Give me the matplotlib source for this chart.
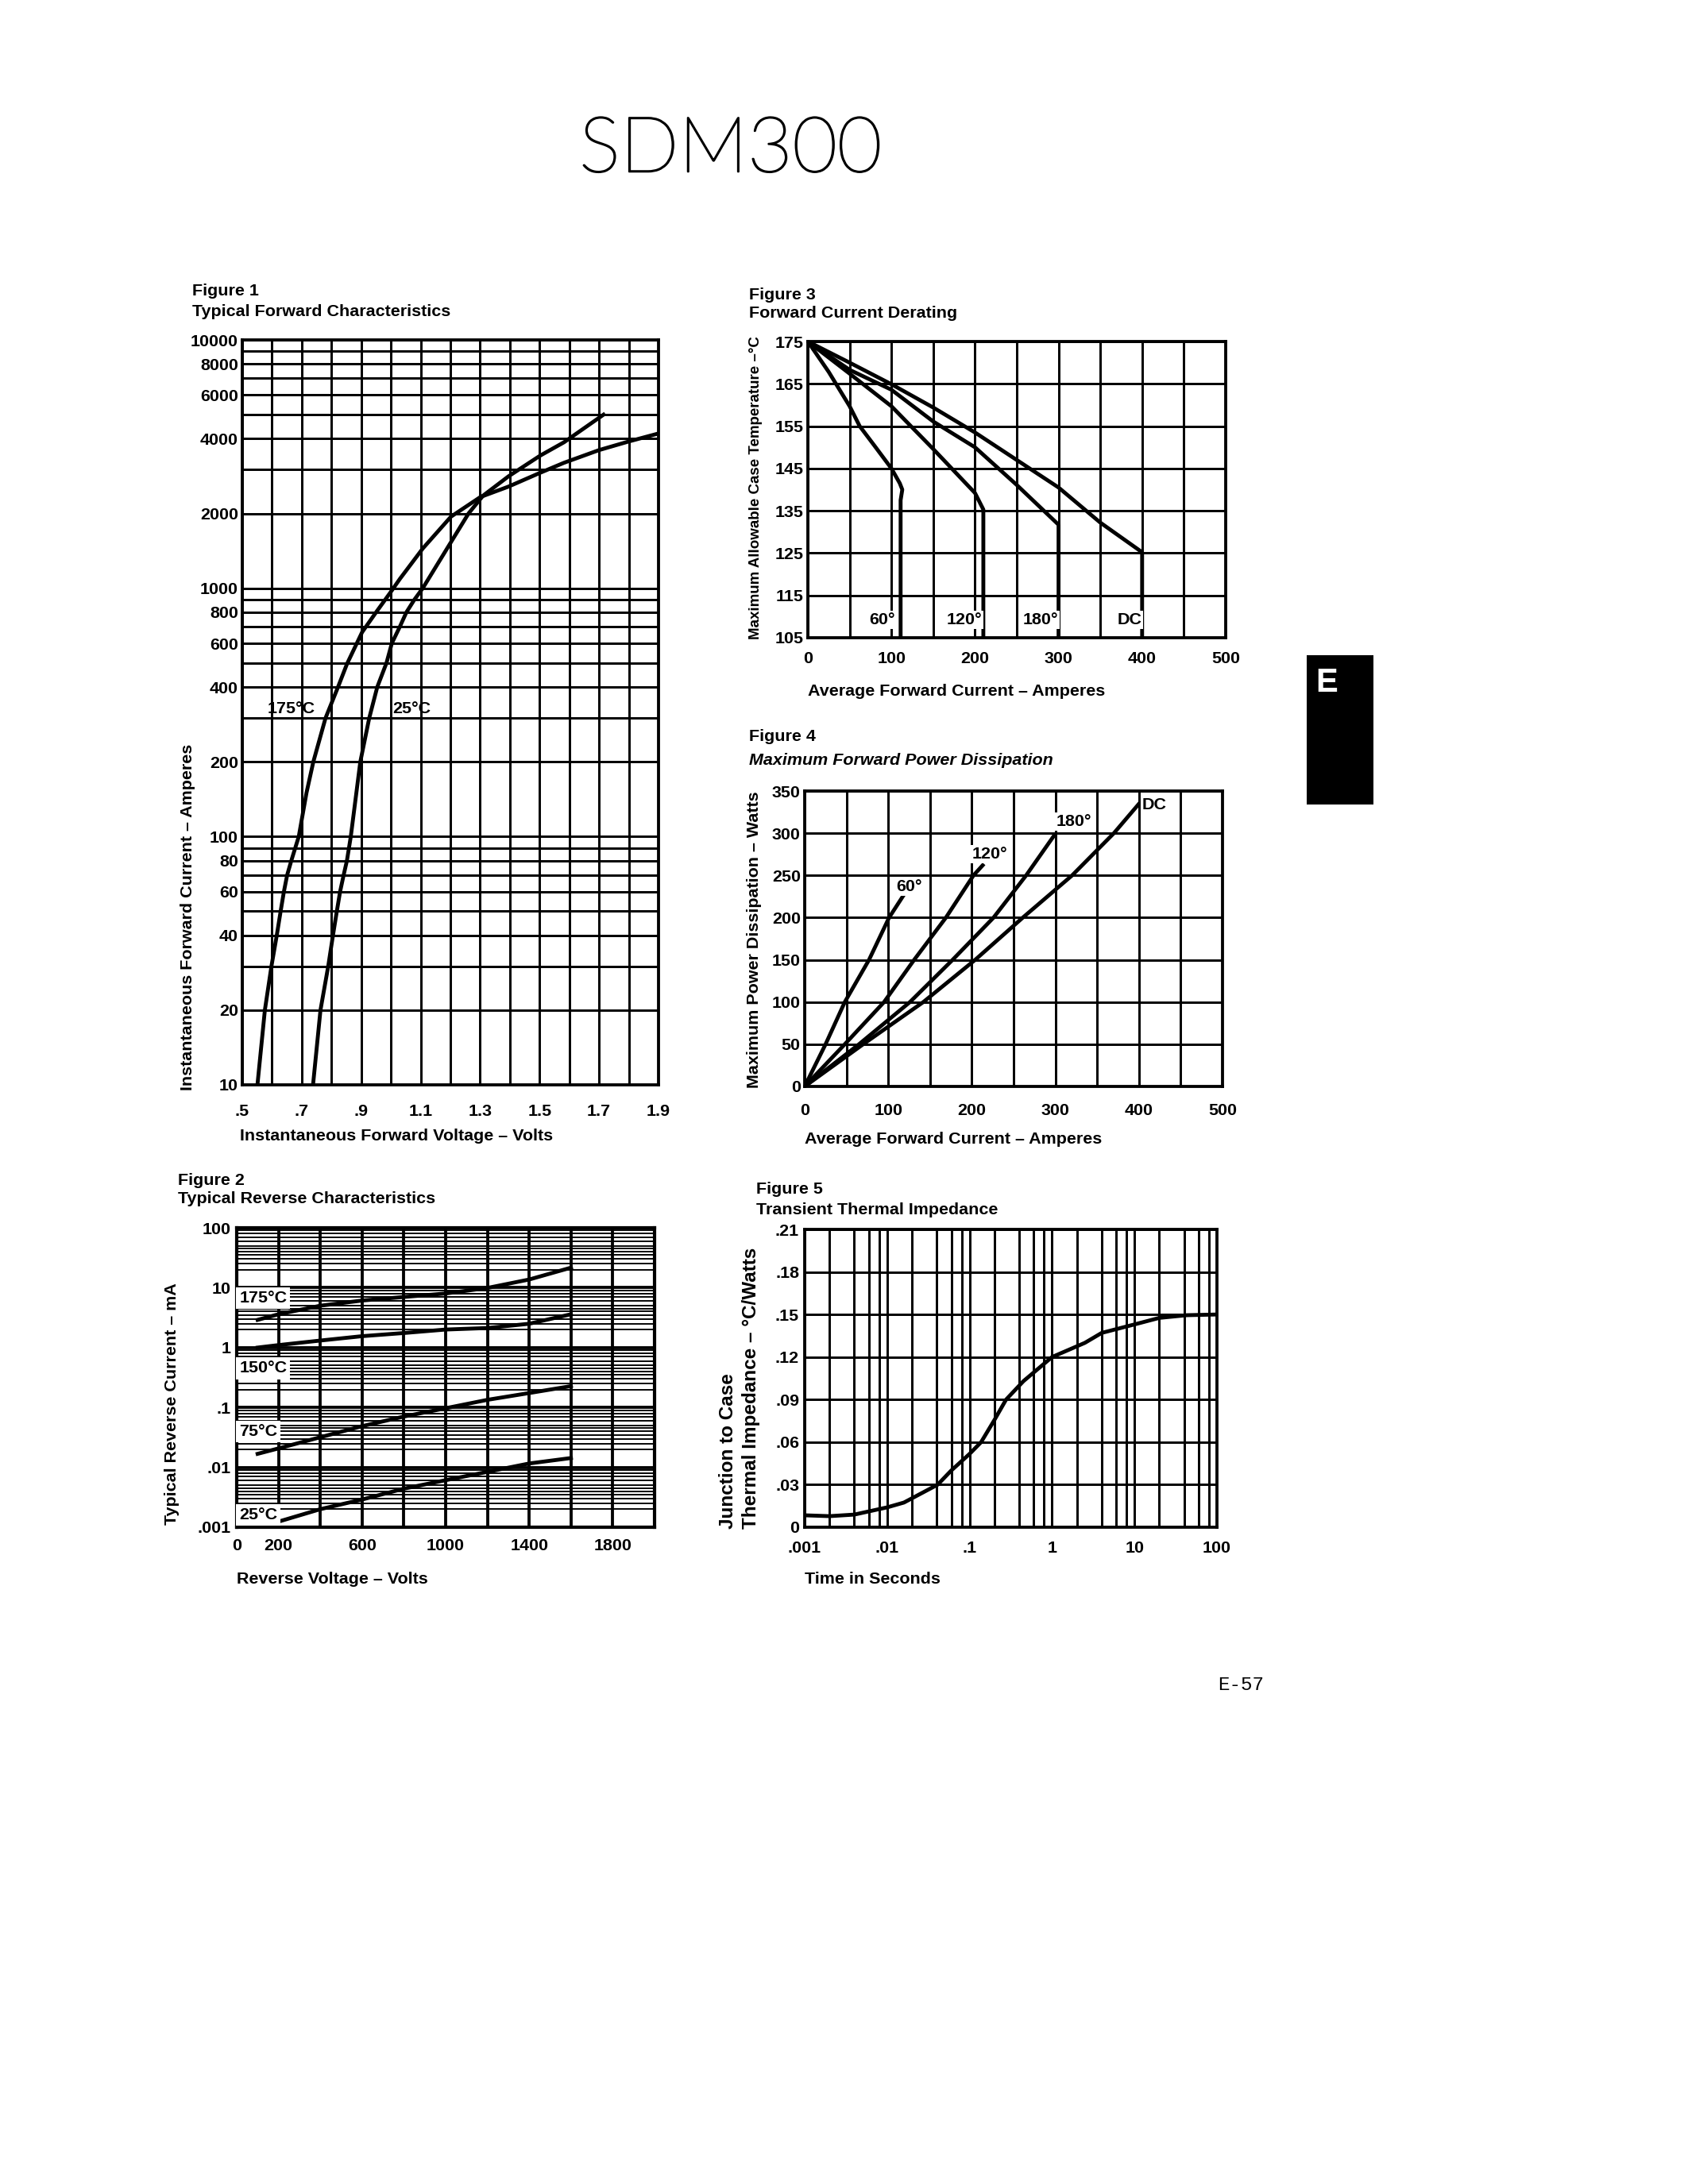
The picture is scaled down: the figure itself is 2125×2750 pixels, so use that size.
import numpy as np
import matplotlib
matplotlib.use("Agg")
import matplotlib.pyplot as plt
import matplotlib.patheffects as pe
from matplotlib.patches import Rectangle
from matplotlib.ticker import LogLocator, NullFormatter

# Figure 1 - typical forward characteristics (volts, amperes)
fwd_v_175 = [0.551, 0.576, 0.598, 0.616, 0.629, 0.640, 0.651, 0.665, 0.690, 0.716, 0.739,
             0.780, 0.822, 0.852, 0.903, 0.950, 1.000, 1.030, 1.107, 1.202, 1.301, 1.395,
             1.502, 1.582, 1.700, 1.800, 1.900]
fwd_i_175 = [10, 20, 30, 40, 50, 60, 70, 80, 100, 150, 200, 300, 400, 495, 665, 800, 968,
             1090, 1445, 1942, 2330, 2565, 2917, 3200, 3600, 3900, 4200]
fwd_v_25 = [0.738, 0.763, 0.789, 0.805, 0.818, 0.829, 0.841, 0.852, 0.865, 0.897, 0.927,
            0.954, 0.985, 1.003, 1.030, 1.052, 1.079, 1.107, 1.261, 1.310, 1.395, 1.502,
            1.582, 1.715]
fwd_i_25 = [10, 20, 30, 40, 50, 60, 70, 80, 100, 200, 300, 400, 500, 600, 700, 800, 900,
            1000, 2000, 2360, 2820, 3420, 3870, 5000]
fwd_xticks = [0.5, 0.7, 0.9, 1.1, 1.3, 1.5, 1.7, 1.9]
fwd_xticklabels = ['.5', '.7', '.9', '1.1', '1.3', '1.5', '1.7', '1.9']
fwd_yticks = [10, 20, 40, 60, 80, 100, 200, 400, 600, 800, 1000, 2000, 4000, 6000, 8000, 10000]

# Figure 2 - typical reverse characteristics (volts, mA)
rev_v_175 = [100, 200, 400, 600, 800, 1000, 1200, 1400, 1600]
rev_i_175 = [2.9, 3.6, 5.0, 6.1, 7.0, 8.0, 9.9, 13.7, 21.6]
rev_v_150 = [100, 200, 400, 600, 800, 1000, 1200, 1400, 1600]
rev_i_150 = [1.0, 1.1, 1.31, 1.55, 1.75, 2.0, 2.12, 2.5, 3.6]
rev_v_75 = [100, 200, 400, 600, 800, 1000, 1200, 1400, 1600]
rev_i_75 = [0.0168, 0.0207, 0.0318, 0.0487, 0.0705, 0.097, 0.134, 0.174, 0.227]
rev_v_25 = [119, 200, 400, 600, 800, 1000, 1200, 1400, 1600]
rev_i_25 = [0.001, 0.00124, 0.0020, 0.0029, 0.0044, 0.0061, 0.0084, 0.0116, 0.0143]
rev_labels = ['175°C', '150°C', '75°C', '25°C']
rev_label_y = [6.7, 0.45, 0.04, 0.0016]
rev_xticks = [0, 200, 600, 1000, 1400, 1800]
rev_yticks = [0.001, 0.01, 0.1, 1, 10, 100]
rev_yticklabels = ['.001', '.01', '.1', '1', '10', '100']

# Figure 3 - forward current derating (amperes, deg C)
der_i_60 = [0, 25, 50, 62, 80, 100, 110, 113, 111, 111]
der_t_60 = [175, 167.8, 159.7, 155, 150.3, 145, 141.5, 140, 137.5, 105]
der_i_120 = [0, 50, 100, 150, 200, 210, 210]
der_t_120 = [175, 167.4, 159.7, 149.6, 139.2, 135.3, 105]
der_i_180 = [0, 50, 100, 150, 200, 250, 300, 300]
der_t_180 = [175, 168.3, 163.6, 156.1, 150, 141.1, 131.7, 105]
der_i_dc = [0, 50, 100, 150, 200, 250, 300, 350, 400, 400]
der_t_dc = [175, 170, 164.9, 159.4, 153.5, 147, 140.5, 132.2, 125.2, 105]
der_labels = ['60°', '120°', '180°', 'DC']
der_label_x = [73, 166, 257, 370]

# Figure 4 - maximum forward power dissipation (amperes, watts)
pwr_i_60 = [0, 25, 48, 77, 101, 118]
pwr_w_60 = [0, 50, 100, 150, 200, 226]
pwr_i_120 = [0, 48, 95, 131, 169, 202, 213]
pwr_w_120 = [0, 50, 100, 150, 200, 250, 262]
pwr_i_180 = [0, 65, 126, 177, 226, 265, 299]
pwr_w_180 = [0, 50, 100, 150, 200, 250, 298]
pwr_i_dc = [0, 70, 142, 204, 261, 320, 370, 401]
pwr_w_dc = [0, 50, 100, 150, 200, 250, 300, 336]
pwr_labels = ['60°', '120°', '180°', 'DC']
pwr_label_x = [110, 200, 301, 404]
pwr_label_y = [237, 275, 314, 334]

# Figure 5 - transient thermal impedance (seconds, deg C / W)
zth_t = [0.001, 0.002, 0.004, 0.01, 0.016, 0.041, 0.06, 0.1, 0.138, 0.2, 0.277, 0.45, 1,
         2.5, 4, 10, 20, 43, 100]
zth_z = [0.0084, 0.0078, 0.0089, 0.014, 0.0174, 0.030, 0.040, 0.0517, 0.060, 0.0756, 0.090,
         0.103, 0.120, 0.130, 0.137, 0.143, 0.1476, 0.1495, 0.150]
zth_xticks = [0.001, 0.01, 0.1, 1, 10, 100]
zth_xticklabels = ['.001', '.01', '.1', '1', '10', '100']
zth_yticks = [0, 0.03, 0.06, 0.09, 0.12, 0.15, 0.18, 0.21]
zth_yticklabels = ['0', '.03', '.06', '.09', '.12', '.15', '.18', '.21']

W, H, DPI = 2125, 2750, 250
FS = 6.2
LW_GRID = 0.85
LW_CURVE = 1.4

plt.rcParams['font.family'] = ['Liberation Sans', 'DejaVu Sans']
plt.rcParams['font.weight'] = 'bold'
plt.rcParams['font.size'] = FS

fig = plt.figure(figsize=(W / DPI, H / DPI), dpi=DPI)
fig.patch.set_facecolor('white')


def px_box(x0, y0, x1, y1):
    # pixel box (top-left origin) -> figure fraction rect
    return [x0 / W, 1 - y1 / H, (x1 - x0) / W, (y1 - y0) / H]


def ftext(x, y, s, **kw):
    return fig.text(x / W, 1 - y / H, s, **kw)


def style_axes(ax, xpad, ypad, lw=LW_GRID):
    ax.grid(True, which='both', color='black', linewidth=lw)
    ax.tick_params(which='both', length=0, labelsize=FS)
    ax.tick_params(axis='x', pad=xpad)
    ax.tick_params(axis='y', pad=ypad)
    for sp in ax.spines.values():
        sp.set_linewidth(lw + 0.25)


def curve(ax, x, y):
    ax.plot(x, y, color='black', lw=LW_CURVE, solid_joinstyle='round', zorder=3)


label_box = dict(facecolor='white', edgecolor='none', pad=0.6)

# ---------- page title ----------
ftext(920, 190, 'SDM300', fontsize=28, family=['Lato', 'DejaVu Sans'], weight='light',
      ha='center', va='center',
      path_effects=[pe.withStroke(linewidth=0.6, foreground='black')])

# ---------- Figure 1 ----------
ax1 = fig.add_axes(px_box(305, 428, 829, 1366))
ax1.set_yscale('log')
ax1.set_xlim(0.5, 1.9)
ax1.set_ylim(10, 10000)
curve(ax1, fwd_v_175, fwd_i_175)
curve(ax1, fwd_v_25, fwd_i_25)
ax1.set_xticks(fwd_xticks, labels=fwd_xticklabels)
ax1.set_xticks(np.arange(0.6, 1.85, 0.2), minor=True)
ax1.set_yticks(fwd_yticks, labels=[str(v) for v in fwd_yticks])
ax1.yaxis.set_minor_locator(LogLocator(base=10, subs=np.arange(1, 10), numticks=20))
ax1.yaxis.set_minor_formatter(NullFormatter())
style_axes(ax1, xpad=7, ypad=1.5)
ax1.text(0.585, 305, '175°C', ha='left', va='bottom', fontsize=FS)
ax1.text(1.005, 305, '25°C', ha='left', va='bottom', fontsize=FS)
ftext(242, 357, 'Figure 1', ha='left', va='top')
ftext(242, 383, 'Typical Forward Characteristics', ha='left', va='top')
ftext(302, 1431, 'Instantaneous Forward Voltage – Volts', ha='left', va='center')
ftext(237, 1373, 'Instantaneous Forward Current – Amperes', rotation=90,
      ha='center', va='bottom')

# ---------- Figure 3 ----------
ax3 = fig.add_axes(px_box(1017, 430, 1543, 803))
ax3.set_xlim(0, 500)
ax3.set_ylim(105, 175)
for xs, ys in [(der_i_60, der_t_60), (der_i_120, der_t_120),
               (der_i_180, der_t_180), (der_i_dc, der_t_dc)]:
    curve(ax3, xs, ys)
ax3.set_xticks(np.arange(0, 501, 100))
ax3.set_xticks(np.arange(50, 500, 100), minor=True)
ax3.set_yticks(np.arange(105, 176, 10))
style_axes(ax3, xpad=5, ypad=1.5)
for lab, lx in zip(der_labels, der_label_x):
    ax3.text(lx, 109.2, lab, ha='left', va='center', fontsize=FS, bbox=label_box, zorder=4)
ftext(943, 362, 'Figure 3', ha='left', va='top')
ftext(943, 385, 'Forward Current Derating', ha='left', va='top')
ftext(1017, 870, 'Average Forward Current – Amperes', ha='left', va='center')
ftext(952, 614, 'Maximum Allowable Case Temperature –°C', rotation=90,
      ha='center', va='center', fontsize=5.4)

# ---------- Figure 4 ----------
ax4 = fig.add_axes(px_box(1013, 996, 1539, 1368))
ax4.set_xlim(0, 500)
ax4.set_ylim(0, 350)
for xs, ys in [(pwr_i_60, pwr_w_60), (pwr_i_120, pwr_w_120),
               (pwr_i_180, pwr_w_180), (pwr_i_dc, pwr_w_dc)]:
    curve(ax4, xs, ys)
ax4.set_xticks(np.arange(0, 501, 100))
ax4.set_xticks(np.arange(50, 500, 100), minor=True)
ax4.set_yticks(np.arange(0, 351, 50))
style_axes(ax4, xpad=6, ypad=1.5)
for lab, lx, ly in zip(pwr_labels, pwr_label_x, pwr_label_y):
    ax4.text(lx, ly, lab, ha='left', va='center', fontsize=FS, bbox=label_box, zorder=4)
ftext(943, 918, 'Figure 4', ha='left', va='top')
ftext(943, 948, 'Maximum Forward Power Dissipation', ha='left', va='top', style='italic')
ftext(1013, 1434, 'Average Forward Current – Amperes', ha='left', va='center')
ftext(949, 1183, 'Maximum Power Dissipation – Watts', rotation=90,
      ha='center', va='center')

# ---------- Figure 2 ----------
ax2 = fig.add_axes(px_box(298, 1546, 824, 1923))
ax2.set_yscale('log')
ax2.set_xlim(0, 2000)
ax2.set_ylim(0.001, 100)
for xs, ys in [(rev_v_175, rev_i_175), (rev_v_150, rev_i_150),
               (rev_v_75, rev_i_75), (rev_v_25, rev_i_25)]:
    curve(ax2, xs, ys)
ax2.set_xticks(rev_xticks, labels=[str(v) for v in rev_xticks])
ax2.set_xticks([400, 800, 1200, 1600, 2000], minor=True)
ax2.set_yticks(rev_yticks, labels=rev_yticklabels)
# log paper with extra half-step rulings in each decade
ax2.yaxis.set_minor_locator(LogLocator(base=10, subs=[2, 2.5, 3, 3.5, 4, 4.5, 5, 6, 7, 8, 9],
                                       numticks=20))
ax2.yaxis.set_minor_formatter(NullFormatter())
ax2.grid(True, which='major', color='black', linewidth=1.1)
ax2.grid(True, which='minor', axis='y', color='black', linewidth=0.55)
ax2.grid(True, which='minor', axis='x', color='black', linewidth=1.1)
ax2.tick_params(which='both', length=0, labelsize=FS)
ax2.tick_params(axis='x', pad=4)
ax2.tick_params(axis='y', pad=2)
for sp in ax2.spines.values():
    sp.set_linewidth(1.2)
for lab, ly in zip(rev_labels, rev_label_y):
    ax2.text(12, ly, lab, ha='left', va='center', fontsize=FS,
             bbox=dict(facecolor='white', edgecolor='none', pad=1.2), zorder=4)
ftext(224, 1477, 'Figure 2', ha='left', va='top')
ftext(224, 1500, 'Typical Reverse Characteristics', ha='left', va='top')
ftext(298, 1988, 'Reverse Voltage – Volts', ha='left', va='center')
ftext(217, 1920, 'Typical Reverse Current – mA', rotation=90, ha='center', va='bottom')

# ---------- Figure 5 ----------
ax5 = fig.add_axes(px_box(1013, 1548, 1532, 1923))
ax5.set_xscale('log')
ax5.set_xlim(0.001, 100)
ax5.set_ylim(0, 0.21)
curve(ax5, zth_t, zth_z)
ax5.set_xticks(zth_xticks, labels=zth_xticklabels)
ax5.xaxis.set_minor_locator(LogLocator(base=10, subs=[2, 4, 6, 8], numticks=20))
ax5.xaxis.set_minor_formatter(NullFormatter())
ax5.set_yticks(zth_yticks, labels=zth_yticklabels)
style_axes(ax5, xpad=5, ypad=2)
ftext(952, 1488, 'Figure 5', ha='left', va='top')
ftext(952, 1514, 'Transient Thermal Impedance', ha='left', va='top')
ftext(1013, 1988, 'Time in Seconds', ha='left', va='center')
ftext(931, 1925, 'Junction to Case\nThermal Impedance – °C/Watts', rotation=90,
      ha='center', va='bottom', multialignment='left', linespacing=1.35, fontsize=7)

# ---------- section tab and page number ----------
fig.add_artist(Rectangle((1645 / W, 1 - 1013 / H), 84 / W, 188 / H,
                         transform=fig.transFigure, facecolor='black', edgecolor='none'))
ftext(1670, 860, 'E', color='white', fontsize=12, ha='center', va='center')
ftext(1562, 2121, 'E-57', family=['Liberation Mono', 'DejaVu Sans Mono'],
      weight='normal', fontsize=7, ha='center', va='center')

fig.savefig('out.png', dpi=DPI, facecolor='white')
